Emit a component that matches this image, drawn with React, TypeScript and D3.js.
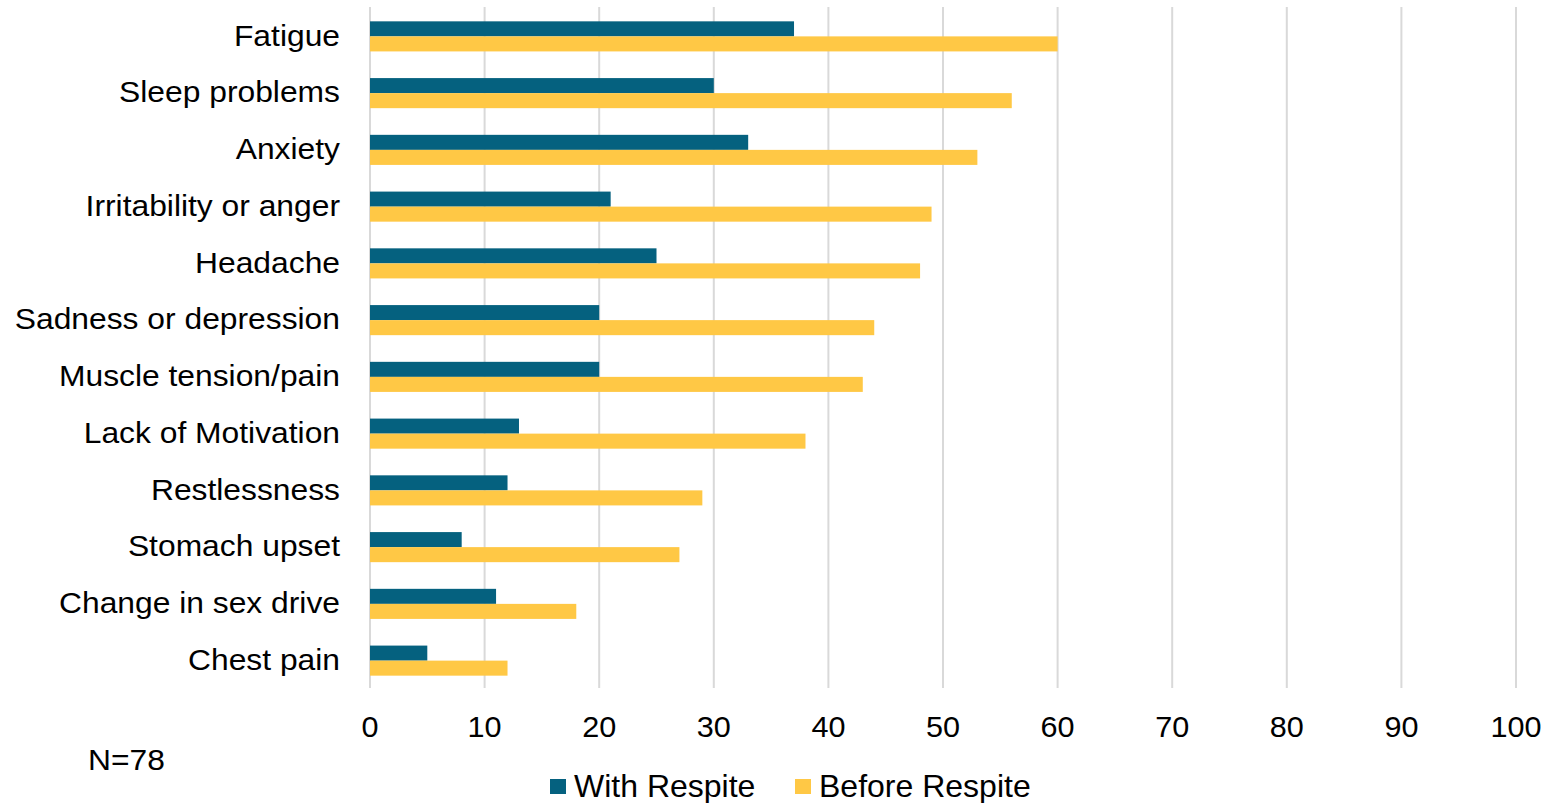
import React from "react";
import * as d3 from "d3";

const categories = [
  "Fatigue",
  "Sleep problems",
  "Anxiety",
  "Irritability or anger",
  "Headache",
  "Sadness or depression",
  "Muscle tension/pain",
  "Lack of Motivation",
  "Restlessness",
  "Stomach upset",
  "Change in sex drive",
  "Chest pain",
];
const withRespite = [37, 30, 33, 21, 25, 20, 20, 13, 12, 8, 11, 5];
const beforeRespite = [60, 56, 53, 49, 48, 44, 43, 38, 29, 27, 18, 12];
const xTicks = [0, 10, 20, 30, 40, 50, 60, 70, 80, 90, 100];
const seriesNames = ["With Respite", "Before Respite"];
const colors = ["#05617f", "#ffc845"];

const W = 1547;
const H = 803;
const FONT = "'Liberation Sans', Arial, sans-serif";

function SText({ x, y, sx, children, ...rest }: any) {
  return (
    <g transform={`translate(${x},${y}) scale(${sx},1)`}>
      <text x={0} y={0} fill="#000" {...rest}>
        {children}
      </text>
    </g>
  );
}

export default function App() {
  const x = d3.scaleLinear().domain([0, 100]).range([370, 1516]);
  const y = d3.scaleBand<string>().domain(categories).range([8, 689]).paddingInner(0.47).paddingOuter(0.235);
  const sub = d3.scaleBand<number>().domain([0, 1]).range([0, y.bandwidth()]);
  const series = [withRespite, beforeRespite];

  return (
    <svg
      width={W}
      height={H}
      style={{ position: "absolute", left: 0, top: 0, background: "#fff" }}
      fontFamily={FONT}
    >
      {xTicks.map((t) => (
        <line key={"g" + t} x1={x(t)} x2={x(t)} y1={7} y2={688} stroke="#d9d9d9" strokeWidth={2} />
      ))}
      {categories.map((c, i) => (
        <g key={c}>
          {series.map((s, k) => (
            <rect
              key={k}
              x={x(0)}
              y={(y(c) as number) + (sub(k) as number)}
              width={x(s[i]) - x(0)}
              height={sub.bandwidth()}
              fill={colors[k]}
            />
          ))}
          <SText
            x={340}
            y={(y(c) as number) + y.bandwidth() / 2 - 1}
            sx={1.06}
            textAnchor="end"
            dominantBaseline="central"
            fontSize={30}
          >
            {c}
          </SText>
        </g>
      ))}
      {xTicks.map((t) => (
        <SText key={"t" + t} x={x(t)} y={737} sx={1.02} textAnchor="middle" fontSize={30}>
          {t}
        </SText>
      ))}
      <SText x={88} y={770} sx={1.06} fontSize={30}>N=78</SText>
      {seriesNames.map((n, k) => {
        const lx = [550, 795][k];
        return (
          <g key={n}>
            <rect x={lx} y={779} width={16} height={15} fill={colors[k]} />
            <text x={lx + 24} y={797} fontSize={32} fill="#000">{n}</text>
          </g>
        );
      })}
    </svg>
  );
}
